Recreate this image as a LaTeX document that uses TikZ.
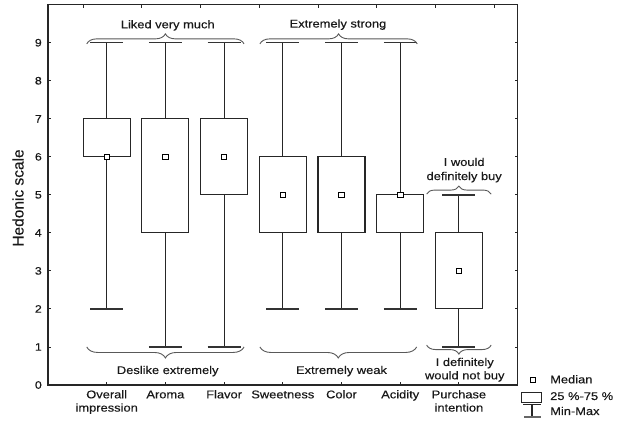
\documentclass[tikz,border=0pt]{standalone}
\usepackage{fontspec}
\setmainfont[FakeStretch=1.15,FakeBold=0.25]{Liberation Sans}
\newfontfamily\ylabfont[FakeBold=0.25]{Liberation Sans}
\usetikzlibrary{decorations.pathreplacing}
\begin{document}
\begin{tikzpicture}[x=1pt,y=1pt,
  lbl/.style={font=\fontsize{11.2}{13}\selectfont, inner sep=0, text=black!90},
  ticklbl/.style={font=\fontsize{10.8}{12}\selectfont, inner sep=0, text=black!90},
  boxln/.style={draw=black!85, line width=1.1pt},
  capln/.style={draw=black!80, line width=1.4pt},
  med/.style={draw=black, fill=white, line width=0.9pt, minimum size=5.5pt, inner sep=0, rectangle},
  brc/.style={draw=black!65, line width=0.9pt, decorate, decoration={brace, amplitude=#1}},
]
\useasboundingbox (0,0) rectangle (622,421);
\fill[white] (0,0) rectangle (622,421);
\begin{scope}[shift={(48,36)}, x=58.7pt, y=38.03pt]
  % frame
  \draw[black!85, line width=1.1pt] (0,0) rectangle (8,10);
  % y ticks
  \foreach \v in {0,...,9} {
    \draw[black!85, line width=0.9pt] (0,\v) -- ++(3pt,0);
    \draw[black!85, line width=0.9pt] (8,\v) -- ++(-3pt,0);
    \node[ticklbl, anchor=east] at ([xshift=-6pt]0,\v) {\v};
  }
  % x ticks
  \foreach \u in {1,...,7} {
    \draw[black!85, line width=0.9pt] (\u,0) -- ++(0,3pt);
  }
  \foreach \u in {0.6,1.6,2.6,3.6,4.6,5.6,6.6,7.6} {
    \draw[black!85, line width=0.9pt] (\u,10) -- ++(0,-3pt);
  }
  % boxes
  \foreach \u/\mn/\qa/\qb/\mx/\md in {1/2/6/7/9/6, 2/1/4/7/9/6, 3/1/5/7/9/6, 4/2/4/6/9/5, 5/2/4/6/9/5, 6/2/4/5/9/5, 7/1/2/4/5/3} {
    \draw[boxln] (\u,\mn) -- (\u,\qa);
    \draw[boxln] (\u,\qb) -- (\u,\mx);
    \draw[capln] ({\u-0.28},\mn) -- ({\u+0.28},\mn);
    \draw[capln] ({\u-0.28},\mx) -- ({\u+0.28},\mx);
    \draw[boxln] ({\u-0.4},\qa) rectangle ({\u+0.4},\qb);
    \node[med] at (\u,\md) {};
  }
  % braces
  \draw[brc=10pt] (0.66,8.97) -- (3.34,8.97);
  \draw[brc=10pt] (3.61,8.97) -- (6.29,8.97);
  \draw[brc=11pt] (3.34,1.0) -- (0.66,1.0);
  \draw[brc=11pt] (6.28,1.0) -- (3.61,1.0);
  \draw[brc=8pt] (6.45,5.02) -- (7.55,5.02);
  \draw[brc=9pt] (7.55,1.05) -- (6.45,1.05);
  % brace labels
  \node[lbl, anchor=base] at (2.04,9.38) {Liked very much};
  \node[lbl, anchor=base] at (4.94,9.40) {Extremely strong};
  \node[lbl, anchor=base] at (2.04,0.29) {Deslike extremely};
  \node[lbl, anchor=base] at (5.0,0.29) {Extremely weak};
  \node[lbl, anchor=base] at (7.09,5.76) {I would};
  \node[lbl, anchor=base] at (7.09,5.39) {definitely buy};
  \node[lbl, anchor=base] at (7.1,0.50) {I definitely};
  \node[lbl, anchor=base] at (7.1,0.15) {would not buy};
  % category labels
  \node[lbl, anchor=base] at (1,-0.35) {Overall};
  \node[lbl, anchor=base] at (1,-0.70) {impression};
  \node[lbl, anchor=base] at (2,-0.35) {Aroma};
  \node[lbl, anchor=base] at (3,-0.35) {Flavor};
  \node[lbl, anchor=base] at (4,-0.35) {Sweetness};
  \node[lbl, anchor=base] at (5,-0.35) {Color};
  \node[lbl, anchor=base] at (6,-0.35) {Acidity};
  \node[lbl, anchor=base] at (7,-0.35) {Purchase};
  \node[lbl, anchor=base] at (7,-0.70) {intention};
\end{scope}
% y axis label
\node[rotate=90, inner sep=0, font=\ylabfont\fontsize{15.5}{18}\selectfont, text=black!90] (ylab) at (18,223) {Hedonic scale};
% legend
\node[med] (lgmed) at (532.7,41) {};
\draw[boxln] (521.7,28.7) rectangle (541.7,18.7);
\draw[boxln] (523,16.5) -- (541,16.5);
\draw[boxln] (532,16.5) -- (532,4.3);
\draw[capln, line width=1.6pt, draw=black!60] (524,4.3) -- (541,4.3);
\node[lbl, anchor=base west] (lg1) at (550,37.7) {Median};
\node[lbl, anchor=base west] (lg2) at (550,21) {25 \%-75 \%};
\node[lbl, anchor=base west] (lg3) at (550,6) {Min-Max};
\end{tikzpicture}
\end{document}
